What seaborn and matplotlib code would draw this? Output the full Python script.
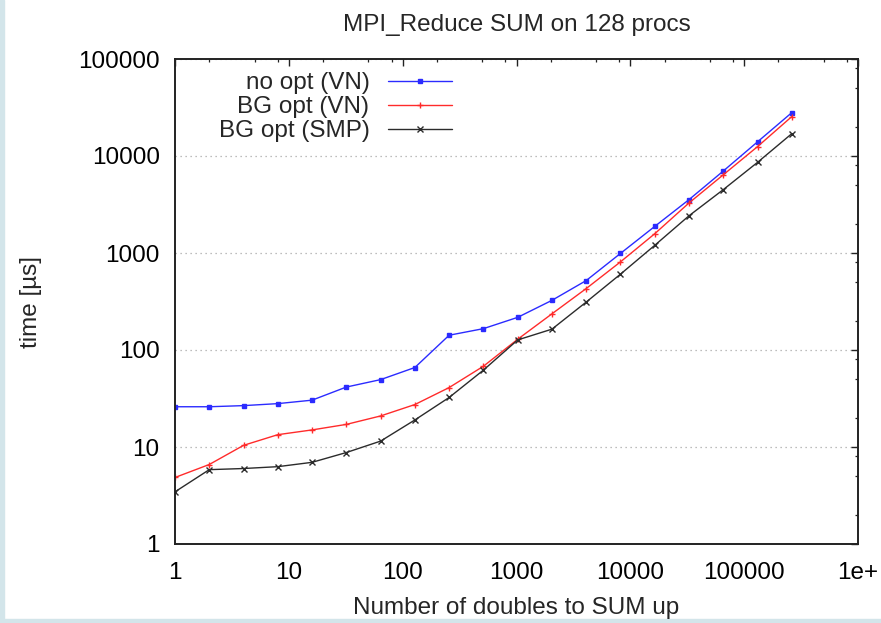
import numpy as np
import pandas as pd
import matplotlib
matplotlib.use('Agg')
import matplotlib.pyplot as plt
import seaborn as sns
from matplotlib.patches import Rectangle
from matplotlib.ticker import FixedLocator, NullFormatter

# message sizes (number of doubles)
n_doubles = [1, 2, 4, 8, 16, 32, 64, 128, 256, 512, 1024, 2048, 4096,
             8192, 16384, 32768, 65536, 131072, 262144]
# time in microseconds
no_opt_vn = [26, 26, 26.7, 28, 30.4, 41.5, 49.5, 66, 142, 166, 217, 325, 520,
             990, 1880, 3550, 7000, 14000, 28000]
bg_opt_vn = [4.85, 6.6, 10.4, 13.4, 15, 17.1, 20.9, 27.4, 41, 68, 129, 236, 430,
             810, 1580, 3280, 6400, 12500, 25500]
bg_opt_smp = [3.45, 5.84, 6.0, 6.27, 6.95, 8.77, 11.5, 19, 32.4, 62, 127, 164, 312,
              605, 1200, 2420, 4500, 8600, 17000]

series_names = ['no opt (VN)', 'BG opt (VN)', 'BG opt (SMP)']
series_colors = ['#2b2bff', '#ff2b2b', '#2b2b2b']
series_markers = ['s', '+', 'x']
series_msize = [3.5, 5, 4.5]

x_ticks = [1, 10, 100, 1000, 10000, 100000, 1000000]
x_tick_labels = ['1', '10', '100', '1000', '10000', '100000', '1e+']
y_ticks = [1, 10, 100, 1000, 10000, 100000]
y_tick_labels = ['1', '10', '100', '1000', '10000', '100000']

df = pd.DataFrame({'n': n_doubles,
                   series_names[0]: no_opt_vn,
                   series_names[1]: bg_opt_vn,
                   series_names[2]: bg_opt_smp})
df = df.melt(id_vars='n', var_name='series', value_name='time')

sns.set_theme(style='white')
plt.rcParams['font.family'] = ['Liberation Sans', 'DejaVu Sans']
plt.rcParams.update({'xtick.direction': 'in', 'ytick.direction': 'in',
                     'xtick.top': True, 'ytick.right': True})
fs = 17.5

fig = plt.figure(figsize=(8.81, 6.23), dpi=100)
fig.patch.set_facecolor('white')
ax = fig.add_axes([175/881, 1-544/623, 683/881, 485/623])

for name, col, mk, ms in zip(series_names, series_colors, series_markers, series_msize):
    sns.lineplot(data=df[df['series'] == name], x='n', y='time', color=col,
                 marker=mk, markersize=ms, markeredgewidth=1.0, markeredgecolor=col,
                 linewidth=1.0, label=name, ax=ax)

ax.set_xscale('log')
ax.set_yscale('log')
ax.set_xlim(1, 1e6)
ax.set_ylim(1, 1e5)

ax.xaxis.set_major_locator(FixedLocator(x_ticks))
ax.set_xticklabels(x_tick_labels)
ax.yaxis.set_major_locator(FixedLocator(y_ticks))
ax.set_yticklabels(y_tick_labels)
ax.xaxis.set_minor_locator(FixedLocator([m * 10**k for k in range(6) for m in (2, 5, 8)]))
ax.yaxis.set_minor_locator(FixedLocator([m * 10**k for k in range(5) for m in (2, 5, 8)]))
ax.xaxis.set_minor_formatter(NullFormatter())
ax.yaxis.set_minor_formatter(NullFormatter())
ax.tick_params(which='major', length=5, width=1.0, colors='#222222', labelsize=fs,
               labelcolor='black', top=True, right=True)
ax.tick_params(which='minor', length=2.5, width=0.9, colors='#222222', top=True, right=True)
ax.tick_params(axis='x', which='major', pad=13)
ax.tick_params(axis='y', which='major', pad=11)

ax.yaxis.grid(True, which='major', linestyle=(0, (1, 3)), color='#a8a8a8', linewidth=0.9)
ax.xaxis.grid(False)
for sp in ax.spines.values():
    sp.set_color('#222222')
    sp.set_linewidth(1.4)

ax.set_title('MPI_Reduce SUM on 128 procs', fontsize=fs, pad=20)
ax.set_xlabel('Number of doubles to SUM up', fontsize=fs, labelpad=9)
ax.set_ylabel('time [µs]', fontsize=fs, labelpad=26)

ax.legend(loc='upper right', bbox_to_anchor=(0.4056, 0.973), frameon=False,
          markerfirst=False, fontsize=fs, handlelength=2.65,
          handletextpad=0.75, labelspacing=0.08, borderpad=0, borderaxespad=0)

# pale border of the original screenshot
fig.add_artist(Rectangle((0, 0), 4/881, 1, transform=fig.transFigure,
                         color='#d3e5ea', zorder=-1))
fig.add_artist(Rectangle((0, 0), 1, 4/623, transform=fig.transFigure,
                         color='#d3e5ea', zorder=-1))

fig.savefig('out.png', dpi=100)
